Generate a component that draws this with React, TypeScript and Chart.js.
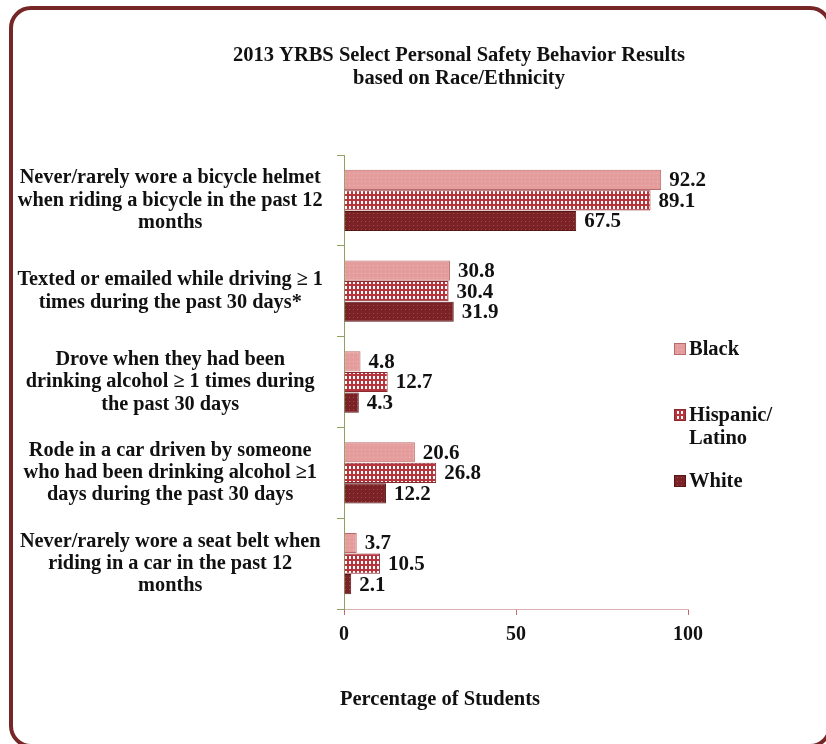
import React, { useEffect, useRef } from "react";
import { Chart, registerables } from "chart.js";

Chart.register(...registerables);

const FONT = '"Liberation Serif", "Times New Roman", serif';

const categories: string[][] = [
  ["Never/rarely wore a bicycle helmet", "when riding a bicycle in the past 12", "months"],
  ["Texted or emailed while driving \u2265 1", "times during the past 30 days*"],
  ["Drove when they had been", "drinking alcohol \u2265 1 times during", "the past 30 days"],
  ["Rode in a car driven by someone", "who had been drinking alcohol \u22651", "days during the past 30 days"],
  ["Never/rarely wore a seat belt when", "riding in a car in the past 12", "months"],
];

const seriesNames = ["Black", "Hispanic/Latino", "White"];
const legendLines: string[][] = [["Black"], ["Hispanic/", "Latino"], ["White"]];
const blackValues = [92.2, 30.8, 4.8, 20.6, 3.7];
const hispanicValues = [89.1, 30.4, 12.7, 26.8, 10.5];
const whiteValues = [67.5, 31.9, 4.3, 12.2, 2.1];
const xTickValues = [0, 50, 100];
const titleLines = ["2013 YRBS Select Personal Safety Behavior Results", "based on Race/Ethnicity"];
const axisTitle = "Percentage of Students";

function makePattern(base: string, dot: string, w: number, h: number, rect: [number, number, number, number]) {
  const c = document.createElement("canvas");
  c.width = w;
  c.height = h;
  const g = c.getContext("2d")!;
  g.fillStyle = base;
  g.fillRect(0, 0, w, h);
  g.fillStyle = dot;
  g.fillRect(rect[0], rect[1], rect[2], rect[3]);
  const ctx = document.createElement("canvas").getContext("2d")!;
  return ctx.createPattern(c, "repeat")!;
}

export default function App() {
  const ref = useRef<HTMLCanvasElement | null>(null);

  useEffect(() => {
    if (!ref.current) return;
    const fills = [
      makePattern("#e59c9c", "#efb6b6", 4, 4, [1, 1, 1, 1]),
      makePattern("#b8343c", "#ffffff", 4, 5, [1, 1, 2, 3]),
      makePattern("#7a2226", "#a24a4e", 4, 4, [1, 1, 1, 1]),
    ];
    const borders = ["#b86a6a", "#8a2a30", "#561616"];
    const valueSets = [blackValues, hispanicValues, whiteValues];

    const customPlugin = {
      id: "customDraw",
      afterDatasetsDraw(chart: any) {
        const ctx = chart.ctx;
        ctx.save();
        ctx.font = `bold 21px ${FONT}`;
        ctx.fillStyle = "#111";
        ctx.textBaseline = "middle";
        ctx.textAlign = "left";
        chart.data.datasets.forEach((ds: any, i: number) => {
          const meta = chart.getDatasetMeta(i);
          meta.data.forEach((bar: any, j: number) => {
            ctx.fillText(Number(ds.data[j]).toFixed(1), bar.x + 8, bar.y + 1);
          });
        });
        ctx.restore();
      },
      afterDraw(chart: any) {
        const ctx = chart.ctx;
        const area = chart.chartArea;
        ctx.save();
        ctx.fillStyle = "#111";
        // title
        ctx.font = `bold 20.5px ${FONT}`;
        ctx.textAlign = "center";
        ctx.textBaseline = "alphabetic";
        ctx.fillText(titleLines[0], 459, 61);
        ctx.fillText(titleLines[1], 459, 84);
        // axis title
        ctx.font = `bold 20.5px ${FONT}`;
        ctx.textAlign = "left";
        ctx.textBaseline = "middle";
        ctx.fillText(axisTitle, area.left - 4, area.bottom + 91);
        // legend
        const legendY = [349, 415, 481];
        legendLines.forEach((lines, i) => {
          const bx = area.right - 14;
          const by = legendY[i] - 6;
          ctx.fillStyle = fills[i];
          ctx.fillRect(bx, by, 12, 12);
          ctx.strokeStyle = borders[i];
          ctx.lineWidth = 1;
          ctx.strokeRect(bx + 0.5, by + 0.5, 11, 11);
          ctx.fillStyle = "#111";
          ctx.font = `bold 20.5px ${FONT}`;
          lines.forEach((ln, k) => {
            ctx.fillText(ln, bx + 15, legendY[i] + 1 + k * 23);
          });
        });
        ctx.restore();
      },
    };

    const chart = new Chart(ref.current, {
      type: "bar",
      data: {
        labels: categories,
        datasets: seriesNames.map((name, i) => ({
          label: name,
          data: valueSets[i],
          backgroundColor: fills[i],
          borderColor: borders[i],
          borderWidth: 1,
          barPercentage: 0.98,
          categoryPercentage: 0.68,
        })),
      },
      options: {
        indexAxis: "y",
        responsive: false,
        animation: false,
        layout: { padding: { top: 155, right: 138, bottom: 0, left: 0 } },
        plugins: {
          legend: { display: false },
          title: { display: false },
          tooltip: { enabled: false },
        },
        scales: {
          x: {
            min: 0,
            max: 100,
            afterBuildTicks(scale: any) {
              scale.ticks = xTickValues.map((v) => ({ value: v }));
            },
            ticks: {
              color: "#111",
              padding: 8,
              maxRotation: 0,
              font: { family: FONT, size: 20, weight: "bold" },
            },
            grid: { drawOnChartArea: false, tickLength: 6, color: "#c46a6a" },
            border: { color: "#dcb0b0" },
            afterFit(scale: any) {
              scale.height = 135;
            },
          },
          y: {
            grid: { drawOnChartArea: false, tickLength: 7, color: "#8fa060", offset: true },
            border: { color: "#8fa060" },
            ticks: {
              color: "#111",
              crossAlign: "center",
              padding: 14,
              font: { family: FONT, size: 20.3, weight: "bold", lineHeight: 1.1 },
            },
            afterFit(scale: any) {
              scale.width = 344;
            },
          },
        },
      } as any,
      plugins: [customPlugin],
    });
    return () => chart.destroy();
  }, []);

  return (
    <div style={{ position: "fixed", left: 0, top: 0, width: 826, height: 744, overflow: "hidden", background: "#fff" }}>
      <div
        style={{
          position: "absolute",
          left: 9,
          top: 6,
          width: 823,
          height: 742,
          boxSizing: "border-box",
          border: "4px solid #762626",
          borderRadius: 22,
        }}
      />
      <canvas ref={ref} width={826} height={744} style={{ position: "absolute", left: 0, top: 0, width: 826, height: 744 }} />
    </div>
  );
}
